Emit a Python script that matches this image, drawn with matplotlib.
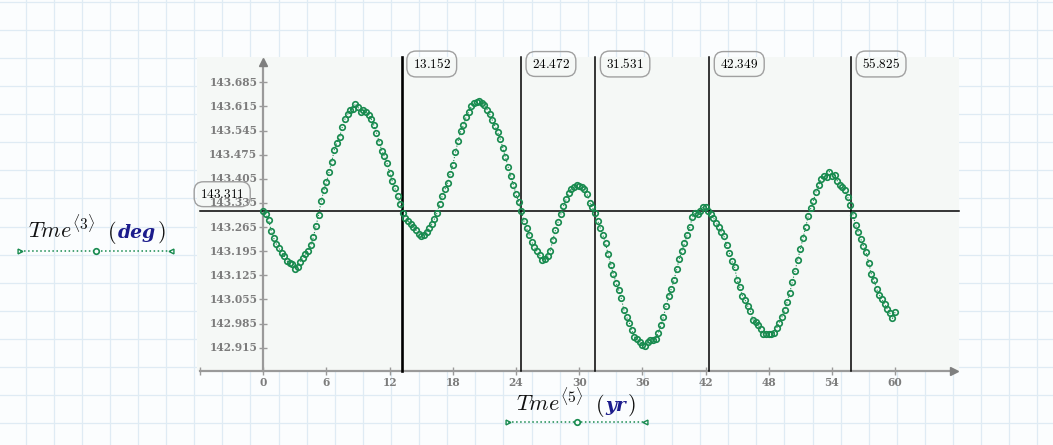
import numpy as np
import matplotlib
matplotlib.use("Agg")
import matplotlib.pyplot as plt
from matplotlib.patches import Rectangle

plt.rcParams['mathtext.fontset'] = 'cm'

# ---------------- data ----------------
time_step_yr = 0.25
tme_deg = [
    143.312, 143.302, 143.285, 143.255,
    143.232, 143.215, 143.203, 143.190,
    143.180, 143.167, 143.160, 143.158,
    143.144, 143.150, 143.165, 143.176,
    143.187, 143.195, 143.212, 143.235,
    143.268, 143.300, 143.340, 143.372,
    143.395, 143.425, 143.455, 143.490,
    143.510, 143.527, 143.555, 143.578,
    143.592, 143.604, 143.608, 143.622,
    143.612, 143.600, 143.606, 143.598,
    143.590, 143.578, 143.560, 143.538,
    143.512, 143.487, 143.470, 143.450,
    143.422, 143.398, 143.378, 143.355,
    143.332, 143.305, 143.292, 143.282,
    143.274, 143.266, 143.256, 143.244,
    143.240, 143.243, 143.250, 143.262,
    143.274, 143.288, 143.306, 143.332,
    143.356, 143.374, 143.393, 143.420,
    143.445, 143.482, 143.515, 143.544,
    143.560, 143.584, 143.598, 143.615,
    143.625, 143.628, 143.632, 143.624,
    143.620, 143.606, 143.592, 143.575,
    143.558, 143.540, 143.520, 143.495,
    143.468, 143.440, 143.412, 143.388,
    143.360, 143.338, 143.312, 143.282,
    143.262, 143.242, 143.222, 143.206,
    143.195, 143.183, 143.170, 143.172,
    143.180, 143.196, 143.228, 143.256,
    143.280, 143.302, 143.325, 143.345,
    143.365, 143.376, 143.380, 143.388,
    143.385, 143.382, 143.376, 143.360,
    143.336, 143.322, 143.307, 143.284,
    143.262, 143.242, 143.218, 143.186,
    143.156, 143.128, 143.104, 143.082,
    143.058, 143.024, 143.004, 142.988,
    142.966, 142.946, 142.940, 142.932,
    142.924, 142.920, 142.932, 142.938,
    142.936, 142.940, 142.958, 142.980,
    143.004, 143.036, 143.064, 143.086,
    143.111, 143.142, 143.172, 143.196,
    143.218, 143.242, 143.264, 143.294,
    143.306, 143.304, 143.312, 143.322,
    143.324, 143.313, 143.302, 143.292,
    143.278, 143.264, 143.250, 143.238,
    143.212, 143.190, 143.166, 143.150,
    143.112, 143.090, 143.066, 143.054,
    143.036, 143.022, 142.996, 142.990,
    142.981, 142.968, 142.954, 142.955,
    142.954, 142.956, 142.957, 142.972,
    142.988, 143.004, 143.024, 143.048,
    143.075, 143.106, 143.138, 143.170,
    143.200, 143.232, 143.265, 143.296,
    143.320, 143.342, 143.368, 143.386,
    143.405, 143.412, 143.410, 143.426,
    143.412, 143.416, 143.400, 143.386,
    143.380, 143.372, 143.352, 143.328,
    143.300, 143.272, 143.250, 143.230,
    143.210, 143.192, 143.160, 143.128,
    143.110, 143.085, 143.068, 143.055,
    143.042, 143.028, 143.015, 143.000,
    143.018,
]
time_yr = np.arange(len(tme_deg)) * time_step_yr

crossing_yr = [13.152, 24.472, 31.531, 42.349, 55.825]
level_deg = 143.311
x_ticks = [-6, 0, 6, 12, 18, 24, 30, 36, 42, 48, 54, 60]
x_tick_labels = ["", "0", "6", "12", "18", "24", "30", "36", "42", "48", "54", "60"]
y_ticks = [142.915, 142.985, 143.055, 143.125, 143.195, 143.265,
           143.335, 143.405, 143.475, 143.545, 143.615, 143.685]
y_tick_labels = ["142.915", "142.985", "143.055", "143.125", "143.195", "143.265",
                 "143.335", "143.405", "143.475", "143.545", "143.615", "143.685"]

# ---------------- style ----------------
W, H = 1053, 445
PAPER = '#fbfdfe'
GRIDC = '#dfebf4'
PLOTBG = '#f5f8f6'
GREEN = '#178a4e'
AXGREY = '#9a9a9a'
LBLGREY = '#7c7c7c'
NAVY = '#1c1c8c'
TICKFONT = dict(family='DejaVu Serif', weight='bold', fontsize=7.7, color=LBLGREY)

fig = plt.figure(figsize=(W / 100, H / 100), dpi=100)
fig.patch.set_facecolor(PAPER)

# background "worksheet" axes in pixel coordinates
bg = fig.add_axes([0, 0, 1, 1])
bg.set_xlim(0, W)
bg.set_ylim(H, 0)
bg.axis('off')
for gx in np.arange(25.7, W, 28.1):
    bg.plot([gx, gx], [0, H], color=GRIDC, lw=0.9, zorder=1)
for gy in np.arange(1.7, H, 28.1):
    bg.plot([0, W], [gy, gy], color=GRIDC, lw=0.9, zorder=1)
bg.add_patch(Rectangle((197, 57), 762, 314, facecolor=PLOTBG, edgecolor='none', zorder=2))

# data axes
ax = fig.add_axes([197 / W, 1 - 371 / H, 762 / W, 314 / H])
ax.set_xlim(-6.296, 66.07)
ax.set_ylim(142.8474, 143.7584)
ax.axis('off')
ylo, yhi = ax.get_ylim()
xlo, xhi = ax.get_xlim()

# x axis
ax.plot([-6, 65.3], [ylo, ylo], color=AXGREY, lw=1.6, clip_on=False, zorder=3)
ax.plot([65.55], [ylo], marker='>', ms=6, color='#7f7f7f', clip_on=False, zorder=3)
ax.plot(x_ticks, [ylo] * len(x_ticks), ls='none', marker='|', ms=6, mew=1.0,
        color=AXGREY, clip_on=False, zorder=3)
for xt, lab in zip(x_ticks, x_tick_labels):
    if lab:
        ax.annotate(lab, xy=(xt, ylo), xytext=(0, -12),
                    textcoords='offset pixels', ha='center', va='center',
                    annotation_clip=False, **TICKFONT)

# y axis
ax.plot([0, 0], [ylo, 143.738], color=AXGREY, lw=1.6, clip_on=False, zorder=3)
ax.plot([0], [143.744], marker='^', ms=6, color='#7f7f7f', clip_on=False, zorder=3)
ax.plot([0] * len(y_ticks), y_ticks, ls='none', marker='_', ms=6, mew=1.0,
        color=AXGREY, clip_on=False, zorder=3)
for yt, lab in zip(y_ticks, y_tick_labels):
    ax.annotate(lab, xy=(0, yt), xytext=(-6, 0),
                textcoords='offset pixels', ha='right', va='center',
                annotation_clip=False, zorder=4, **TICKFONT)

# level line and crossing markers
ax.plot([-6.0, xhi], [level_deg, level_deg], color='black', lw=1.1, zorder=5, clip_on=False)
ax.annotate(r'$%.3f$' % level_deg, xy=(-6.0, level_deg), xytext=(0, 17),
            textcoords='offset pixels', ha='left', va='center', fontsize=9.5,
            color='black', annotation_clip=False, zorder=6,
            bbox=dict(boxstyle='round,pad=0.45,rounding_size=0.7', fc='none',
                      ec='#a0a0a0', lw=1.0))
for i, cx in enumerate(crossing_yr):
    ax.plot([cx, cx], [ylo, yhi], color='black', lw=1.9 if i == 0 else 1.1,
            zorder=5, clip_on=False)
    ax.annotate(r'$%.3f$' % cx, xy=(cx, yhi), xytext=(11, -7),
                textcoords='offset pixels', ha='left', va='center', fontsize=9.5,
                color='black', annotation_clip=False, zorder=6,
                bbox=dict(boxstyle='round,pad=0.45,rounding_size=0.7', fc='none',
                          ec='#a0a0a0', lw=1.0))

# data
ax.plot(time_yr, tme_deg, ls=':', lw=0.8, color=GREEN, marker='o', ms=4.0,
        mfc='none', mec=GREEN, mew=1.2, zorder=7, clip_on=False)

# ---------------- axis labels ----------------
renderer = fig.canvas.get_renderer()


def label_chain(x, y, sup, unit):
    t1 = bg.text(x, y, r'$Tme^{\langle %s\rangle}$' % sup, fontsize=16,
                 ha='left', va='baseline', color='#111111', zorder=8)
    x1 = t1.get_window_extent(renderer).x1 + 12
    t2 = bg.text(x1, y, r'$($', fontsize=16, ha='left', va='baseline',
                 color='#111111', zorder=8)
    x2 = t2.get_window_extent(renderer).x1 + 1
    t3 = bg.text(x2, y, unit, fontsize=13.5, ha='left', va='baseline',
                 family='DejaVu Serif', style='italic', weight='bold',
                 color=NAVY, zorder=8)
    x3 = t3.get_window_extent(renderer).x1 + 1
    bg.text(x3, y, r'$)$', fontsize=16, ha='left', va='baseline',
            color='#111111', zorder=8)


def dotted_handle(xa, xb, y):
    bg.plot([xa, xb], [y, y], ls=':', lw=1.1, color=GREEN, zorder=8)
    bg.plot([xa], [y], marker='>', ms=3.5, mfc='none', mec=GREEN, mew=1, zorder=8)
    bg.plot([(xa + xb) / 2], [y], marker='o', ms=4, mfc=PAPER, mec=GREEN, mew=1.2, zorder=8)
    bg.plot([xb], [y], marker='<', ms=3.5, mfc='none', mec=GREEN, mew=1, zorder=8)


label_chain(28, 238, '3', 'deg')
dotted_handle(20, 171, 251)
label_chain(516, 411, '5', 'yr')
dotted_handle(508, 645, 422)

fig.savefig('out.png', dpi=100, facecolor=fig.get_facecolor())
